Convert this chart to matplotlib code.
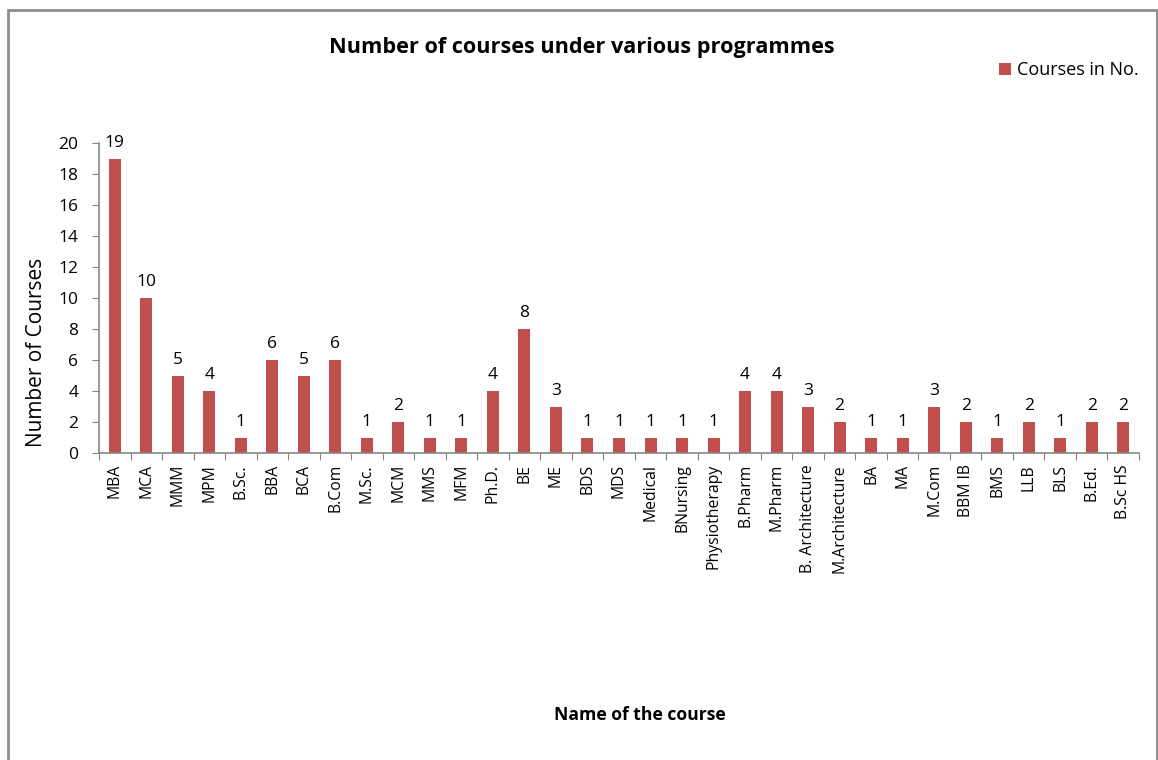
import matplotlib.pyplot as plt
from matplotlib.patches import Rectangle

# Courses offered per programme
courses = ["MBA", "MCA", "MMM", "MPM", "B.Sc.", "BBA", "BCA", "B.Com", "M.Sc.", "MCM",
           "MMS", "MFM", "Ph.D.", "BE", "ME", "BDS", "MDS", "Medical", "BNursing",
           "Physiotherapy", "B.Pharm", "M.Pharm", "B. Architecture", "M.Architecture",
           "BA", "MA", "M.Com", "BBM IB", "BMS", "LLB", "BLS", "B.Ed.", "B.Sc HS"]
counts = [19, 10, 5, 4, 1, 6, 5, 6, 1, 2,
          1, 1, 4, 8, 3, 1, 1, 1, 1,
          1, 4, 4, 3, 2,
          1, 1, 3, 2, 1, 2, 1, 2, 2]
yticks = list(range(0, 21, 2))

plt.rcParams['font.family'] = ['Open Sans', 'DejaVu Sans']
bar_color = '#C0504D'
axis_gray = '#868686'

fig = plt.figure(figsize=(11.58, 7.6), dpi=100)

# chart frame
fig.patches.append(Rectangle((8 / 1158, -0.01), 1149 / 1158, 1 - 9.5 / 760 + 0.01,
                             transform=fig.transFigure, fill=False,
                             edgecolor='#8c8c8c', linewidth=2))

ax = fig.add_axes([99 / 1158, 1 - 453 / 760, (1139 - 99) / 1158, (453 - 143) / 760])
x = list(range(len(courses)))
bars = ax.bar(x, counts, width=0.38, color=bar_color, label='Courses in No.', zorder=2)

for xi, v in zip(x, counts):
    ax.text(xi, v + 0.5, str(v), ha='center', va='bottom', fontsize=12.5, color='black')

ax.set_xlim(-0.5, len(courses) - 0.5)
ax.set_ylim(0, 20)
ax.set_yticks(yticks)
ax.set_yticklabels([str(t) for t in yticks], fontsize=12.5)

ax.set_xticks([i - 0.5 for i in range(len(courses) + 1)], minor=False)
ax.set_xticklabels([])
ax.set_xticks(x, minor=True)
ax.set_xticklabels(courses, minor=True, rotation=90, fontsize=11.3)
ax.tick_params(axis='x', which='minor', length=0, pad=8)
ax.tick_params(axis='x', which='major', length=5, color=axis_gray, direction='out')
ax.tick_params(axis='y', length=5, color=axis_gray, direction='out', pad=10)

for side in ['top', 'right']:
    ax.spines[side].set_visible(False)
for side in ['left', 'bottom']:
    ax.spines[side].set_color(axis_gray)
    ax.spines[side].set_linewidth(1.2)

# axis title sits a bit below the middle of the value axis
ax.set_ylabel('Number of Courses', fontsize=15)
ax.yaxis.set_label_coords(-0.050, 0.326)
fig.text(640 / 1158, 1 - 715 / 760, 'Name of the course', ha='center', va='center',
         fontsize=12.6, fontweight='bold')
fig.text(582 / 1158, 1 - 47 / 760, 'Number of courses under various programmes',
         ha='center', va='center', fontsize=15.6, fontweight='bold')

ax.legend(loc='center left', bbox_to_anchor=(983 / 1158, 1 - 70 / 760),
          bbox_transform=fig.transFigure, frameon=False, fontsize=13,
          handlelength=0.65, handleheight=0.65, handletextpad=0.35)

fig.savefig('out.png', dpi=100)
